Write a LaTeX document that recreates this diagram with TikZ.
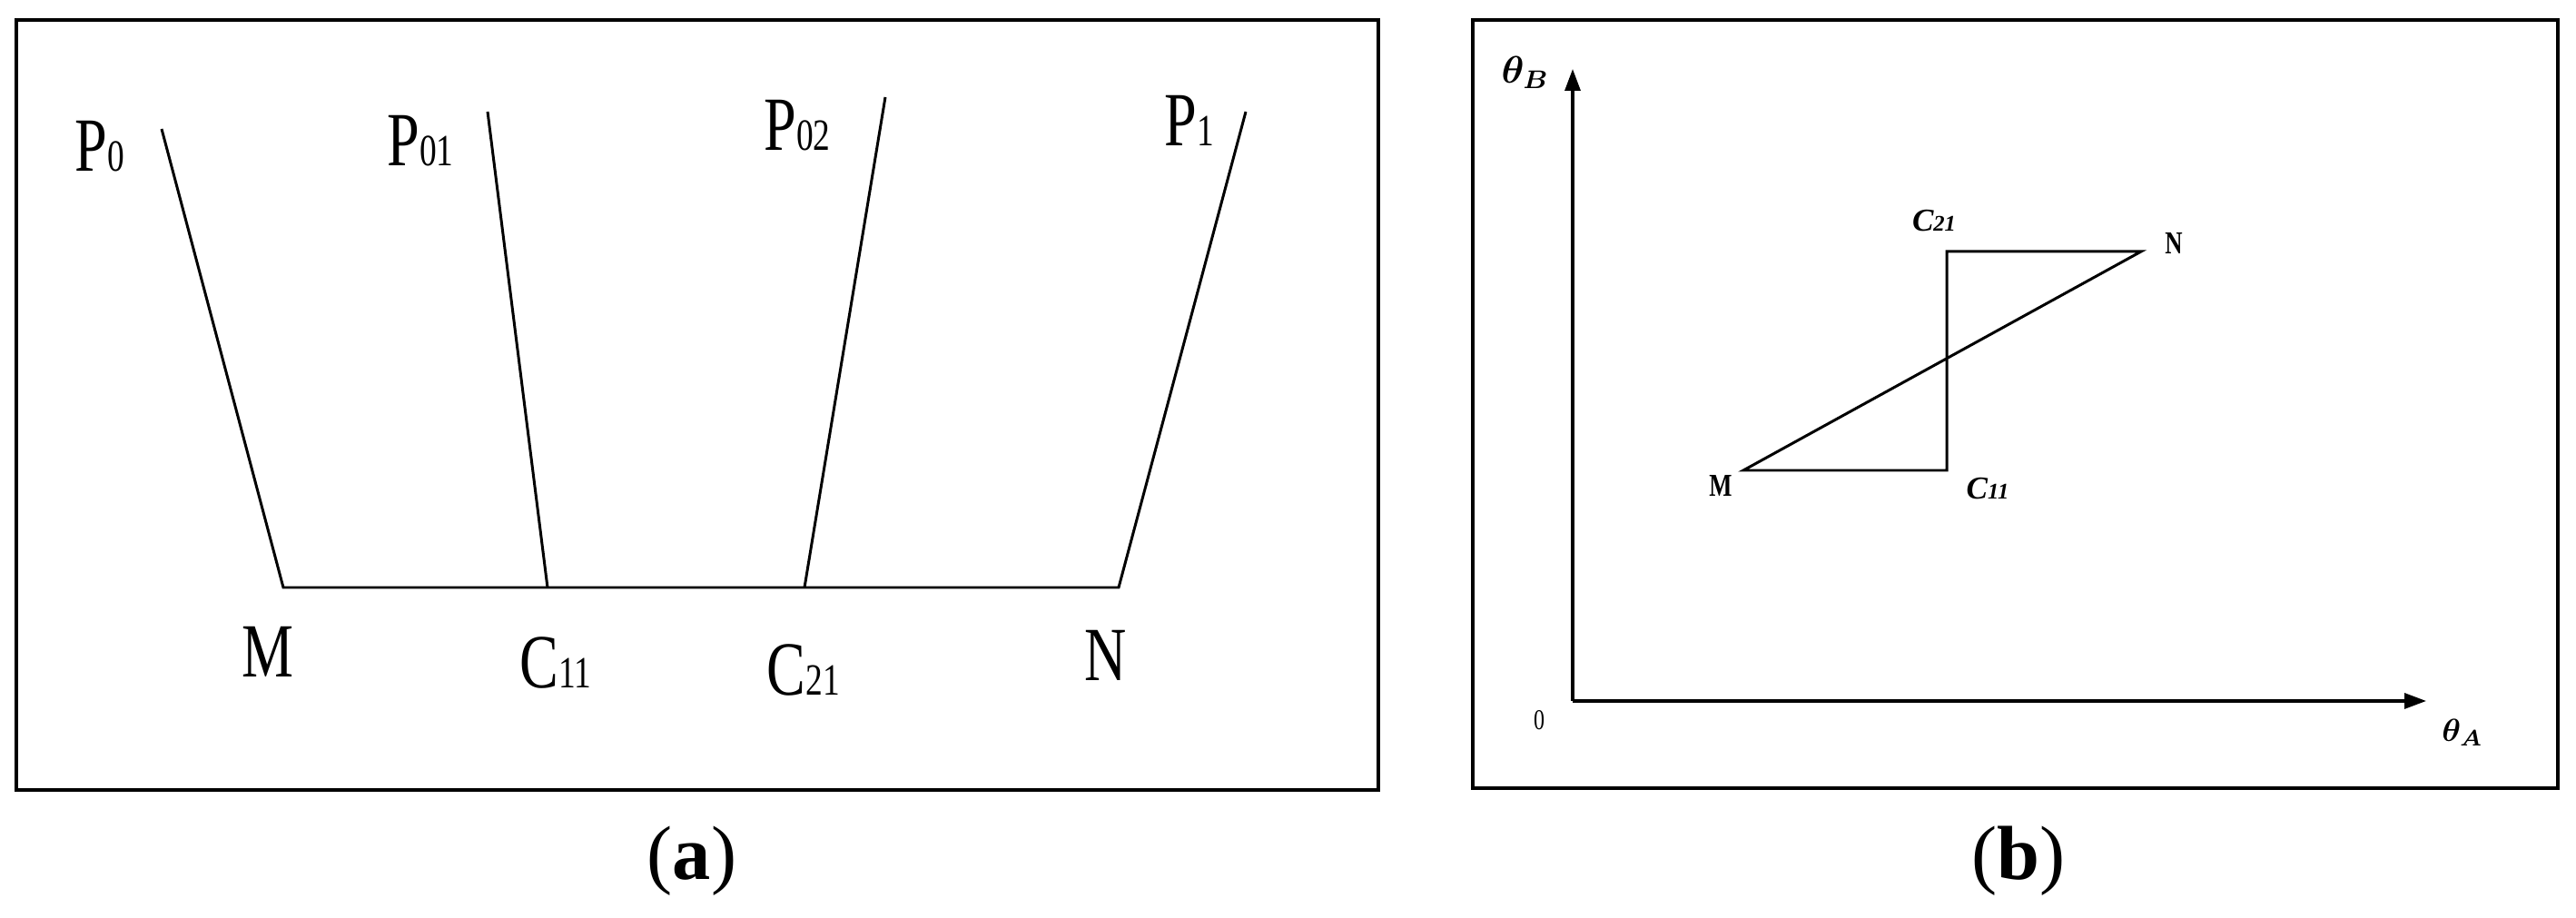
\documentclass[tikz,border=0pt]{standalone}
\usepackage{fontspec}
\usepackage{bm}
\setmainfont{Liberation Serif}
\newfontfamily\narrowserif[FakeStretch=0.76]{Liberation Serif}
\usetikzlibrary{arrows.meta}
\tikzstyle{frame}=[line width=1.3pt]
\tikzstyle{ln}=[line width=0.85pt,line join=miter]
\tikzstyle{axis}=[line width=0.9pt,-{Triangle[length=2.4mm,width=1.7mm]}]
\tikzstyle{lbl}=[inner sep=0pt,font=\narrowserif\fontsize{24}{24}\selectfont]
\tikzstyle{lbl small}=[inner sep=0pt,font=\narrowserif\bfseries\fontsize{10}{10}\selectfont]
\tikzstyle{subcap}=[inner sep=0pt,font=\fontsize{24}{24}\selectfont]
\newcommand{\idx}[1]{{\fontsize{14}{14}\selectfont #1}}
\newcommand{\idxsmall}[1]{{\fontsize{7}{7}\selectfont #1}}

\begin{document}
\begin{tikzpicture}
    \useasboundingbox (0,0) rectangle (28.37,10.10);

    % panel (a)
    \draw[frame] (0.18,9.88) rectangle (15.18,1.40);

    \coordinate (p0)  at (1.78,8.68);
    \coordinate (p01) at (5.37,8.87);
    \coordinate (p02) at (9.75,9.03);
    \coordinate (p1)  at (13.72,8.87);

    \coordinate (m)   at (3.12,3.63);
    \coordinate (c11) at (6.03,3.63);
    \coordinate (c21) at (8.86,3.63);
    \coordinate (n)   at (12.32,3.63);

    \node[lbl] (p0 label)  at (1.10,8.49)  {P\idx{0}};
    \node[lbl] (p01 label) at (4.63,8.55)  {P\idx{01}};
    \node[lbl] (p02 label) at (8.78,8.72)  {P\idx{02}};
    \node[lbl] (p1 label)  at (13.10,8.77) {P\idx{1}};

    \node[lbl] (m label)   at (2.95,2.92)  {M};
    \node[lbl] (c11 label) at (6.12,2.80)  {C\idx{11}};
    \node[lbl] (c21 label) at (8.85,2.72)  {C\idx{21}};
    \node[lbl] (n label)   at (12.18,2.88) {N};

    \draw[ln] (p0) -- (m) -- (n) -- (p1);
    \draw[ln] (p01) -- (c11);
    \draw[ln] (p02) -- (c21);

    \node[subcap] (cap a) at (7.62,0.62) {(\textbf{a})};

    % panel (b)
    \draw[frame] (16.22,9.88) rectangle (28.17,1.42);

    \coordinate (o)     at (17.32,2.38);
    \coordinate (ytip)  at (17.32,9.34);
    \coordinate (xtip)  at (26.72,2.38);

    \coordinate (bm)    at (19.20,4.92);
    \coordinate (bc11)  at (21.44,4.92);
    \coordinate (bc21)  at (21.44,7.33);
    \coordinate (bn)    at (23.58,7.33);

    \draw[axis] (o) -- (ytip);
    \draw[axis] (o) -- (xtip);
    \draw[ln] (bm) -- (bc11) -- (bc21) -- (bn) -- cycle;

    \node[inner sep=0pt] (theta b) at (16.80,9.30) {\fontsize{12}{12}\selectfont$\bm{\theta_B}$};
    \node[inner sep=0pt] (theta a) at (27.12,2.03) {\fontsize{10}{10}\selectfont$\bm{\theta_A}$};
    \node[lbl small,font=\narrowserif\fontsize{9}{9}\selectfont] (zero) at (16.95,2.17) {0};

    \node[lbl small] (bm label)   at (18.95,4.75) {M};
    \node[lbl small] (bn label)   at (23.94,7.42) {N};
    \node[lbl small,font=\bfseries\itshape\fontsize{10}{10}\selectfont] (bc11 label) at (21.89,4.72) {C\idxsmall{11}};
    \node[lbl small,font=\bfseries\itshape\fontsize{10}{10}\selectfont] (bc21 label) at (21.30,7.67) {C\idxsmall{21}};

    \node[subcap] (cap b) at (22.23,0.62) {(\textbf{b})};
\end{tikzpicture}
\end{document}
